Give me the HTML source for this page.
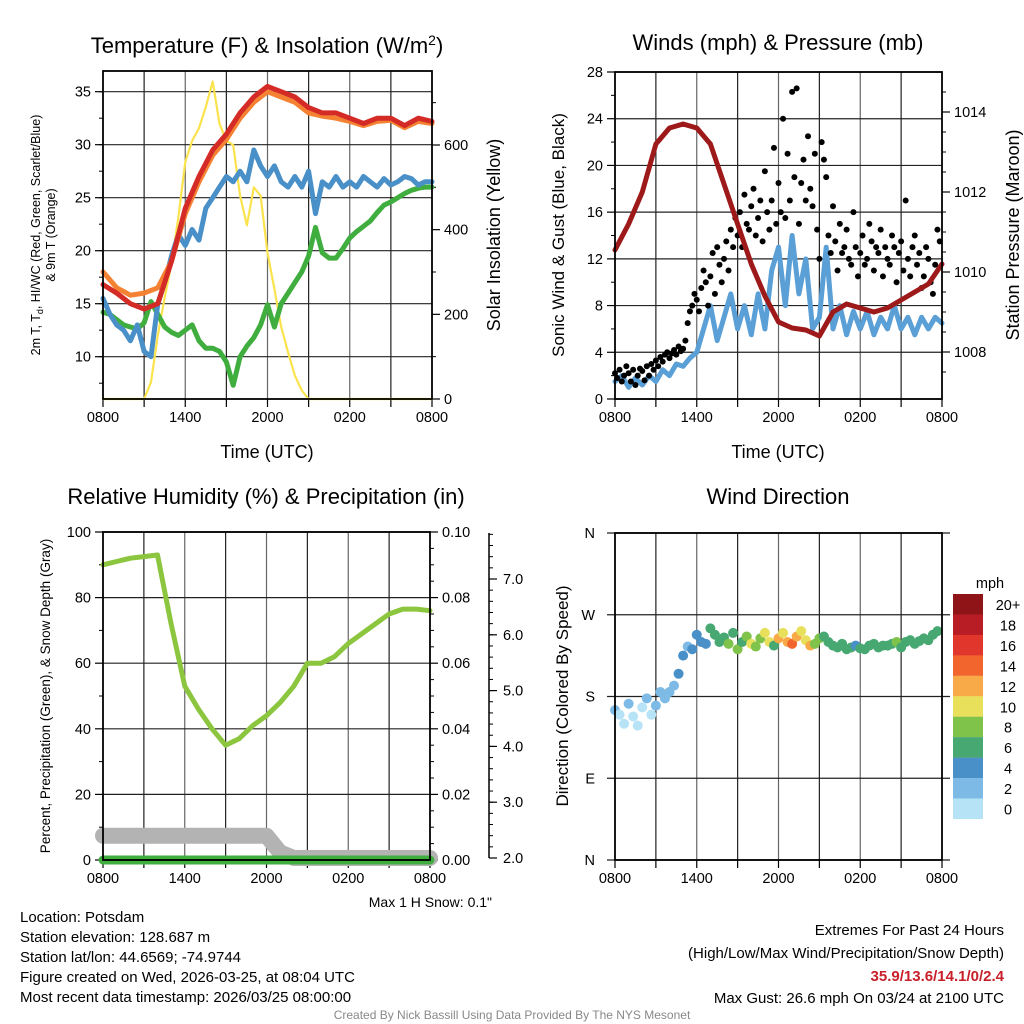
<!DOCTYPE html>
<html><head><meta charset="utf-8">
<style>
html,body{margin:0;padding:0;background:#fff}
svg{display:block;font-family:"Liberation Sans",Arial,sans-serif}
</style></head>
<body>
<svg id="fig" width="1024" height="1024" viewBox="0 0 1024 1024" xmlns="http://www.w3.org/2000/svg">
<rect width="1024" height="1024" fill="#fff"/>
<g id="layer"></g>
<g font-size="22" text-anchor="middle" fill="#000">
<text x="267" y="53">Temperature (F) &amp; Insolation (W/m<tspan dy="-8" font-size="14">2</tspan><tspan dy="8">)</tspan></text>
<text x="778" y="50">Winds (mph) &amp; Pressure (mb)</text>
<text x="266" y="504">Relative Humidity (%) &amp; Precipitation (in)</text>
<text x="778" y="504">Wind Direction</text>
</g>
<g font-size="18" text-anchor="middle">
<text x="267" y="458">Time (UTC)</text>
<text x="778" y="458">Time (UTC)</text>
<text transform="translate(40,235) rotate(-90)" font-size="12.5">2m T, T<tspan font-size="9" dy="3">d</tspan><tspan dy="-3">, HI/WC (Red, Green, Scarlet/Blue)</tspan></text>
<text transform="translate(55,235) rotate(-90)" font-size="12.5">&amp; 9m T (Orange)</text>
<text transform="translate(500,235) rotate(-90)">Solar Insolation (Yellow)</text>
<text transform="translate(564,235) rotate(-90)" font-size="17">Sonic Wind &amp; Gust (Blue, Black)</text>
<text transform="translate(1019,235) rotate(-90)">Station Pressure (Maroon)</text>
<text transform="translate(50,696) rotate(-90)" font-size="13.5">Percent, Precipitation (Green), &amp; Snow Depth (Gray)</text>
<text transform="translate(568,696) rotate(-90)" font-size="17">Direction (Colored By Speed)</text>
</g>
<text x="492" y="907" font-size="14" text-anchor="end">Max 1 H Snow: 0.1"</text>
<g font-size="15">
<text x="20" y="922">Location: Potsdam</text>
<text x="20" y="942">Station elevation: 128.687 m</text>
<text x="20" y="962">Station lat/lon: 44.6569; -74.9744</text>
<text x="20" y="982">Figure created on Wed, 2026-03-25, at 08:04 UTC</text>
<text x="20" y="1002">Most recent data timestamp: 2026/03/25 08:00:00</text>
</g>
<g font-size="15" text-anchor="end">
<text x="1004" y="935">Extremes For Past 24 Hours</text>
<text x="1004" y="958">(High/Low/Max Wind/Precipitation/Snow Depth)</text>
<text x="1004" y="981" fill="#c8202a" font-weight="bold">35.9/13.6/14.1/0/2.4</text>
<text x="1004" y="1003">Max Gust: 26.6 mph On 03/24 at 2100 UTC</text>
</g>
<text x="512" y="1019" font-size="12" fill="#888" text-anchor="middle">Created By Nick Bassill Using Data Provided By The NYS Mesonet</text>
</svg>
<script>
// ---- data ----
const xTickLabels = ["0800","1400","2000","0200","0800"];
const tempRed = [16.8,16,15,14.5,15,19,24,27,29.5,31,33,34.5,35.5,35,34.5,33.5,33,33,32.5,32,32.5,32.5,31.8,32.5,32.2];
const tempOrange = [18,16.5,15.8,16,16.5,19,23.5,26.5,29,30.5,32.5,34,35,34.5,34,33,32.7,32.5,32.2,31.8,32.2,32.3,31.6,32.2,32];
const tempBlue = [15.5,14,13,12.5,11.5,13,10.5,10,15,17,19.5,21.5,20.5,22,21,24,25,26,27,26.5,27.5,26.5,29.5,28,27,28,26.5,26,27,26,27.5,23.5,26.5,26,27,26,26.5,26,27,26.5,26,26.8,26.2,26.5,27,26.8,26.2,26.5,26.5];
const tempGreen = [14.2,14,13.5,13,12.8,12.6,13.2,15.2,14,12.8,12.3,12,12.5,13,11.5,10.8,10.8,10.5,9.5,7.3,10,11,11.8,13,14.9,12.8,15,16,17,18,19.5,22.2,19.8,19.3,19.3,20.2,21.2,21.8,22.3,22.8,23.6,24.3,24.6,25,25.4,25.7,25.9,26,26];
const solar = [0,0,0,0,0,0,0,40,150,240,320,430,560,610,640,690,750,650,610,600,480,410,500,480,345,260,170,110,55,20,0,0,0,0,0,0,0,0,0,0,0,0,0,0,0,0,0,0,0];
const windSpeed = [1.5,2,1,1.8,1.2,2,1.5,2.5,2,3,2.8,3.5,4,6,8,5,7,9,6,8,5.5,9,6,11,13,8,14,9,12,6,7,13,6,8,5.5,7.5,6,7.5,5.5,7,6,8,6,7,5.5,7,6,7,6.5];
const gust = [2.2,1.8,2.5,1.5,2.0,2.8, 2.2,1.5,2.5,1.2,2.0,2.6, 2.4,1.6,2.8,2.0,3.0,2.5, 3.3,2.8,3.6,3.2,3.8,4.0, 3.5,3.9,4.2,3.8,4.5,4.1, 4.3,5.0,6.5,7.5,8.0,9.0, 8.5,7.5,9.5,11.0,10.0,8.0, 10.5,12.5,9.0,13.0,11.5,10.0, 12.0,13.5,11.0,14.5,13.0,15.5, 14.0,16.0,13.0,17.5,15.0,14.5, 16.5,18.0,14.0,15.5,17.0,13.5, 19.5,16.0,14.5,17.0,21.5,15.0, 18.5,16.0,24.0,15.5,21.0,17.0, 26.3,19.0,26.6,15.0,18.5,20.5, 17.0,22.5,18.0,16.5,21.0,14.5, 12.0,22.0,20.5,19.0,14.0,12.5, 16.5,13.5,11.0,15.0,12.5,13.0, 14.5,12.0,11.5,16.0,13.0,10.5, 12.5,14.0,11.5,12.0,15.0,13.5, 11.0,13.0,12.5,14.5,10.5,13.0, 12.0,11.5,14.0,13.0,10.0,12.5, 13.5,11.0,17.0,12.0,10.5,13.0, 14.0,11.5,12.5,9.5,10.5,13.0, 12.0,10.0,9.0,11.5,14.5,13.5];
const pressure = [1010.55,1011.2,1012,1013.2,1013.6,1013.7,1013.6,1013.2,1012.2,1011.2,1010.2,1009.4,1008.75,1008.6,1008.55,1008.4,1009.0,1009.2,1009.1,1009.0,1009.1,1009.3,1009.5,1009.7,1010.2];
const rh = [90,91,92,92.5,93,72,53,46,40,35,37,41,44,48,53,60,60,62,66,69,72,75,76.5,76.5,76];
const precip = [0,0,0,0,0,0,0,0,0,0,0,0,0,0,0,0,0,0,0,0,0,0,0,0,0];
const snowDepth = [2.4,2.4,2.4,2.4,2.4,2.4,2.4,2.4,2.4,2.4,2.4,2.4,2.4,2.1,2.0,2.0,2.0,2.0,2.0,2.0,2.0,2.0,2.0,2.0,2.0];
const windDir = [165,160,150,172,158,148,168,178,160,170,185,178,185,192,205,225,235,232,248,240,238,255,248,240,245,238,250,232,240,246,238,235,244,250,240,236,244,250,240,238,246,252,242,236,238,244,246,240,236,234,238,232,234,236,233,232,236,238,234,236,236,238,240,234,240,242,238,241,244,242,248,252];
const dirSpeed = [2,1,1,2,1,1,1,2,1,3,3,3,3,3,4,4,3,4,4,5,5,7,6,7,7,8,7,9,7,8,10,8,9,11,10,7,12,11,13,15,12,10,11,13,9,8,7,7,6,6,7,6,6,5,6,6,7,6,6,6,6,6,8,6,6,7,6,6,6,6,6,6];
const speedBinLabels = ["20+","18","16","14","12","10","8","6","4","2","0"];
const speedColors = ["#8e1418","#b81c24","#e0362c","#f2662e","#f8aa48","#e8e05a","#7fc34a","#48a872","#4a90c8","#7dbbe6","#b7e3f7"];
const tempTicks = [10,15,20,25,30,35];
const solarTicks = [0,200,400,600];
const windTicks = [0,4,8,12,16,20,24,28];
const pressTicks = [1008,1010,1012,1014];
const rhTicks = [0,20,40,60,80,100];
const precipTicks = [0,0.02,0.04,0.06,0.08,0.10];
const snowTicks = [2,3,4,5,6,7];
const dirTicks = ["N","E","S","W","N"];

const NS="http://www.w3.org/2000/svg";
const layer=document.getElementById('layer');
function el(tag,attrs,parent){const e=document.createElementNS(NS,tag);for(const k in attrs)e.setAttribute(k,attrs[k]);(parent||layer).appendChild(e);return e;}
function lin(d0,d1,r0,r1){return v=>r0+(v-d0)*(r1-r0)/(d1-d0);}
function txt(x,y,s,anchor,size,g){const t=el('text',{x:x,y:y,'text-anchor':anchor,'font-size':size},g);t.textContent=s;return t;}

function panel(name){
  const g=el('g',{});
  
  
  return g;
}
function frame(g,L,R,T,B,xs){
  const gl=el('g',{stroke:'#222','stroke-width':1.2},g);
  
  
  for(let h=3;h<24;h+=3){el('line',{x1:xs(h),x2:xs(h),y1:T,y2:B,stroke:(h%6==0?'#666':'#222')},gl);}
  const xa=el('g',{},g);
  
  
  for(let h=0;h<=24;h+=3){el('line',{x1:xs(h),x2:xs(h),y1:B,y2:B+8,stroke:'#000','stroke-width':1.2},xa);}
  xTickLabels.forEach((s,i)=>{const t=txt(xs(i*6),B+23,s,'middle',14.5,xa);});
}
function box(g,L,R,T,B){el('rect',{x:L,y:T,width:R-L,height:B-T,fill:'none',stroke:'#000','stroke-width':1.8},g);}
function yAxis(g,ticks,ys,xpos,side,fmt,grid,L,R,minor){
  const a=el('g',{},g);
  
  
  const d=side==='l'?-1:1;
  (minor||[]).forEach(v=>{el('line',{x1:xpos,x2:xpos+d*4,y1:ys(v),y2:ys(v),stroke:'#000','stroke-width':1},a);});
  ticks.forEach(v=>{
    const y=ys(v);
    if(grid) el('line',{x1:L,x2:R,y1:y,y2:y,stroke:'#222','stroke-width':1.2},a);
    el('line',{x1:xpos,x2:xpos+d*8,y1:y,y2:y,stroke:'#000','stroke-width':1.2},a);
    const t=txt(xpos+d*12,y+5,fmt(v),side==='l'?'end':'start',14.5,a);
    
    
  });
}
function poly(g,vals,xs,ys,color,w,name,step){
  const pts=vals.map((v,i)=>xs(i*(step||1)).toFixed(1)+','+ys(v).toFixed(1)).join(' ');
  const p=el('polyline',{points:pts,fill:'none',stroke:color,'stroke-width':w,'stroke-linejoin':'round','stroke-linecap':'round'},g);
  
  
}
function range(a,b,s){const r=[];for(let v=a;v<=b+1e-9;v+=s)r.push(v);return r;}

// ---- Panel 1 ----
(function(){
  const L=103,R=432,T=71,B=399;
  const g=panel('temperature-panel');
  const xs=lin(0,24,L,R), ys=lin(10,35,356.7,91.7), ss=lin(0,600,399,145);
  frame(g,L,R,T,B,xs);
  yAxis(g,tempTicks,ys,L,'l',v=>v,true,L,R,range(7.5,37,2.5).filter(v=>ys(v)>=T&&ys(v)<=B));
  yAxis(g,solarTicks,ss,R,'r',v=>v,false,L,R,[100,300,500,700]);
  poly(g,solar,xs,ss,'#fbe34e',2.2,'solar-insolation-line',0.5);
  poly(g,tempGreen,xs,ys,'#3fae3f',5,'dewpoint-line',0.5);
  poly(g,tempBlue,xs,ys,'#4a90c8',5,'windchill-line',0.5);
  poly(g,tempOrange,xs,ys,'#f58233',5,'temp-9m-line');
  poly(g,tempRed,xs,ys,'#d42b26',5,'temp-2m-line');
  box(g,L,R,T,B);
})();

// ---- Panel 2 ----
(function(){
  const L=615,R=942,T=72,B=399;
  const g=panel('wind-panel');
  const xs=lin(0,24,L,R), ys=lin(0,28,399,72), ps=lin(1014,1008,112,352);
  frame(g,L,R,T,B,xs);
  yAxis(g,windTicks,ys,L,'l',v=>v,true,L,R,range(2,26,4));
  yAxis(g,pressTicks,ps,R,'r',v=>v,false,L,R,[1007.5,1008.5,1009,1009.5,1010.5,1011,1011.5,1012.5,1013,1013.5,1014.5]);
  poly(g,windSpeed,xs,ys,'#5a9fd6',5,'sonic-wind-line',0.5);
  const gg=el('g',{fill:'#000'},g);
  
  
  gust.forEach((v,i)=>{
    const c=el('circle',{cx:xs(i/6),cy:ys(v),r:3},gg);
    
    
  });
  poly(g,pressure,xs,ps,'#9e1a1a',5,'pressure-line');
  box(g,L,R,T,B);
})();

// ---- Panel 3 ----
(function(){
  const L=103,R=430,T=532,B=860;
  const g=panel('humidity-panel');
  const xs=lin(0,24,L,R), ys=lin(0,100,860,532), pr=lin(0,0.1,860,532), sn=lin(2,7,858,579);
  frame(g,L,R,T,B,xs);
  yAxis(g,rhTicks,ys,L,'l',v=>v,true,L,R,range(10,90,20));
  yAxis(g,precipTicks,pr,R,'r',v=>v.toFixed(2),false,L,R,range(0.005,0.1,0.01).concat(range(0.01,0.09,0.02)));
  const sa=el('g',{},g);
  
  
  el('line',{x1:489,x2:489,y1:533,y2:858,stroke:'#000','stroke-width':1.5},sa);
  range(2,7.8,0.2).forEach(v=>el('line',{x1:489,x2:493,y1:sn(v),y2:sn(v),stroke:'#000','stroke-width':1},sa));
  snowTicks.forEach(v=>{el('line',{x1:489,x2:497,y1:sn(v),y2:sn(v),stroke:'#000','stroke-width':1.2},sa);const t=txt(503,sn(v)+5,v.toFixed(1),'start',14.5,sa);});
  poly(g,snowDepth,xs,sn,'#b3b3b3',16,'snow-depth-line');
  poly(g,precip,xs,pr,'#3fae3f',9,'precipitation-line');
  el('line',{x1:L,x2:R,y1:B,y2:B,stroke:'#000','stroke-width':1.2},g);
  poly(g,rh,xs,ys,'#8cc63f',5,'relative-humidity-line');
  box(g,L,R,T,B);
})();

// ---- Panel 4 ----
(function(){
  const L=615,R=942,T=533,B=860;
  const g=panel('wind-direction-panel');
  const xs=lin(0,24,L,R), ds=lin(0,360,860,533);
  frame(g,L,R,T,B,xs);
  const a=el('g',{},g);
  
  
  dirTicks.forEach((s,i)=>{const y=ds(i*90);el('line',{x1:L-8,x2:R+8,y1:y,y2:y,stroke:'#222','stroke-width':1.2},a);const t=txt(L-20,y+5,s,'end',14.5,a);});
  const pg=el('g',{},g);
  
  
  windDir.forEach((d,i)=>{
    const sp=dirSpeed[i];
    const bin=Math.min(10,Math.floor(sp/2));
    const c=el('circle',{cx:xs(i/3),cy:ds(d),r:5,fill:speedColors[10-bin]},pg);
    
    
  });
  box(g,L,R,T,B);
  const cb=el('g',{},g);
  
  
  const t0=txt(990,588,'mph','middle',14.5,cb);
  
  
  speedBinLabels.forEach((s,i)=>{
    const y=594+i*20.45;
    const r=el('rect',{x:953,y:y,width:30,height:20.6,fill:speedColors[i]},cb);
    
    
    const t=txt(1008,y+16,s,'middle',14.5,cb);
    
    
  });
})();
</script>
</body></html>
